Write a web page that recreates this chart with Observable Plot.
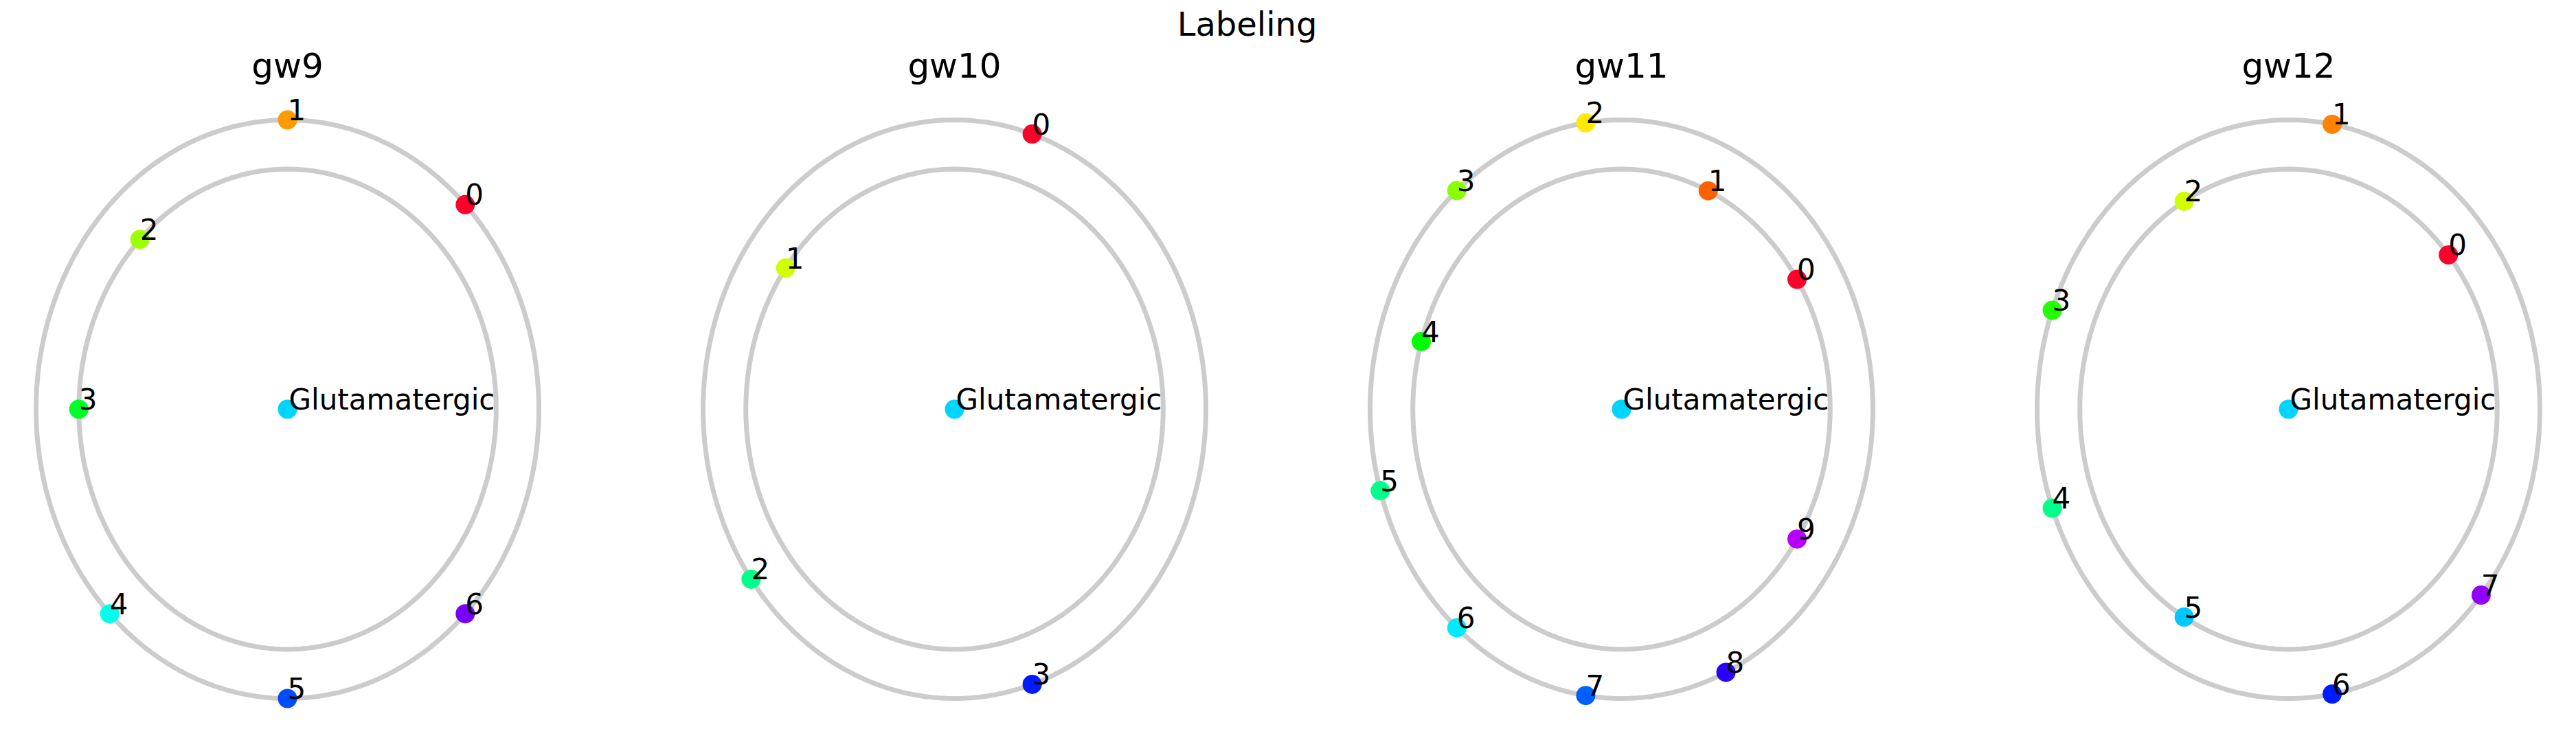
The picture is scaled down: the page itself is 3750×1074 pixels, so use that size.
<!DOCTYPE html>
<html><head><meta charset="utf-8">
<script src="https://cdn.jsdelivr.net/npm/d3@7"></script>
<script src="https://cdn.jsdelivr.net/npm/@observablehq/plot@0.6"></script>
<style>body{margin:0;background:#fff}</style>
</head><body><div id="chart"></div>
<script>
const panels = ["gw9", "gw10", "gw11", "gw12"];
// ring of each node (1 = outer, 0 = inner), in label order 0..n-1
const rings = {
  gw9:  [1, 1, 0, 0, 1, 1, 1],
  gw10: [1, 0, 1, 1],
  gw11: [0, 0, 1, 1, 0, 1, 1, 1, 1, 0],
  gw12: [0, 1, 0, 1, 1, 0, 1, 1]
};
const centerLabel = "Glutamatergic";
const title = "Labeling";

// layout (pixels)
const W = 3750, H = 1074, step = 971, cx0 = 418, cy = 595;
const RX = 366, RY = 421, inner = 0.83;

const nodes = [], ellipses = [], centers = [];
panels.forEach((p, k) => {
  const cx = cx0 + k * step;
  const n = rings[p].length;
  rings[p].forEach((ring, i) => {
    const a = (i + 1) * 2 * Math.PI / (n + 1);
    const s = ring ? 1 : inner;
    const hue = -10 + i * 325 / n;
    nodes.push({panel: p, label: String(i), x: cx + s * RX * Math.cos(a), y: cy - s * RY * Math.sin(a),
      color: d3.hsl((hue + 360) % 360, 1, 0.5).formatHex()});
  });
  centers.push({panel: p, label: centerLabel, x: cx, y: cy, tx: cx, ty: 96});
  for (const s of [1, inner]) for (let j = 0; j <= 200; j++) {
    const a = j / 200 * 2 * Math.PI;
    ellipses.push({key: p + s, x: cx + s * RX * Math.cos(a), y: cy - s * RY * Math.sin(a)});
  }
});

const chart = Plot.plot({
  width: W, height: H, margin: 0,
  x: {domain: [0, W], range: [0, W], axis: null},
  y: {domain: [0, H], range: [0, H], axis: null},
  style: {fontFamily: "DejaVu Sans", background: "#fff"},
  marks: [
    Plot.line(ellipses, {x: "x", y: "y", z: "key", stroke: "#cccccc", strokeWidth: 7}),
    Plot.dot(nodes, {x: "x", y: "y", r: 14, fill: "color"}),
    Plot.dot(centers, {x: "x", y: "y", r: 14, fill: "#00d5ff"}),
    Plot.text(nodes, {x: "x", y: "y", text: "label", textAnchor: "start", dx: 0, dy: -13, fontSize: 42, fill: "#000"}),
    Plot.text(centers, {x: "x", y: "y", text: "label", textAnchor: "start", dx: 2, dy: -13, fontSize: 42, fill: "#000"}),
    Plot.text(centers, {x: "tx", y: "ty", text: "panel", fontSize: 50, fill: "#000"}),
    Plot.text([title], {x: () => W / 2 - 60, y: () => 36, text: d => d, fontSize: 48, fill: "#000"})
  ]
});
document.getElementById("chart").append(chart);
</script></body></html>
